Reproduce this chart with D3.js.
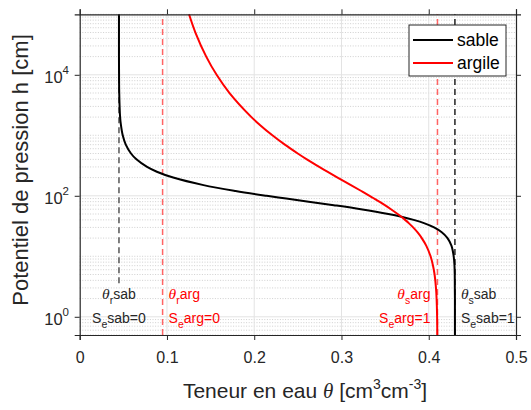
<!DOCTYPE html>
<html>
<head>
<meta charset="utf-8">
<script src="https://cdn.jsdelivr.net/npm/d3@7"></script>
<style>
  body { margin: 0; background: #fff; }
  svg text { font-family: "Liberation Sans", Arial, sans-serif; fill: #262626; }
</style>
</head>
<body>
<div id="chart"></div>
<script>
// pression h [cm] et teneurs en eau
var hValues = [0.5, 1, 2, 3, 5, 7, 10, 15, 20, 25, 30, 35, 40, 45, 50, 60, 70, 80, 90, 100,
  120, 150, 200, 250, 300, 400, 500, 700, 1000, 1500, 2000, 5000, 10000, 20000, 50000, 100000]

var thetaSable = [0.4300, 0.4300, 0.4300, 0.4299, 0.4298, 0.4295, 0.4286, 0.4260, 0.4215, 0.4149,
  0.4061, 0.3953, 0.3827, 0.3687, 0.3537, 0.3222, 0.2912, 0.2624, 0.2367, 0.2143,
  0.1786, 0.1419, 0.1071, 0.0884, 0.0772, 0.0650, 0.0588, 0.0528, 0.0493, 0.0472,
  0.0463, 0.0453, 0.0451, 0.0450, 0.0450, 0.0450]

var thetaArgile = [0.4098, 0.4096, 0.4090, 0.4083, 0.4067, 0.4049, 0.4021, 0.3971, 0.3920, 0.3870,
  0.3821, 0.3774, 0.3729, 0.3686, 0.3644, 0.3567, 0.3497, 0.3433, 0.3375, 0.3322,
  0.3227, 0.3108, 0.2955, 0.2838, 0.2745, 0.2603, 0.2499, 0.2351, 0.2208, 0.2062,
  0.1968, 0.1717, 0.1569, 0.1450, 0.1326, 0.1253]

// teneurs residuelles / a saturation
var refNames = ['thr_sab', 'thr_arg', 'ths_arg', 'ths_sab']
var refTheta = [0.045, 0.095, 0.41, 0.43]
var refHmin = [3.6, 0.5, 0.5, 0.5]

var xTicks = [0, 0.1, 0.2, 0.3, 0.4, 0.5]
var yTickExp = [0, 2, 4]
var seriesNames = ['sable', 'argile']

var width = 531, height = 410
var pLeft = 79.7, pRight = 516, pTop = 14.3, pBottom = 335

var x = d3.scaleLinear().domain([0, 0.5]).range([pLeft, pRight])
var y = d3.scaleLog().domain([0.5, 1e5]).range([pBottom, pTop])

var svg = d3.select('#chart').append('svg').attr('width', width).attr('height', height)

// grille mineure (pointilles)
var minor = []
for (var k = -1; k <= 4; k++) {
  for (var m = 1; m <= 9; m++) {
    var v = m * Math.pow(10, k)
    if (v < 0.5 || v > 1e5) continue
    if (m == 1 && k % 2 == 0) continue
    minor.push(v)
  }
}
minor.push(1e5)
svg.append('g').selectAll('line').data(minor).join('line')
  .attr('x1', pLeft).attr('x2', pRight)
  .attr('y1', d => y(d)).attr('y2', d => y(d))
  .attr('stroke', '#c4c4c4').attr('stroke-width', 0.8).attr('stroke-dasharray', '1,1.6')

// grille majeure
svg.append('g').selectAll('line').data(yTickExp).join('line')
  .attr('x1', pLeft).attr('x2', pRight)
  .attr('y1', d => y(Math.pow(10, d))).attr('y2', d => y(Math.pow(10, d)))
  .attr('stroke', '#e3e3e3').attr('stroke-width', 1)
svg.append('g').selectAll('line').data(xTicks.slice(1, -1)).join('line')
  .attr('y1', pTop).attr('y2', pBottom)
  .attr('x1', d => x(d)).attr('x2', d => x(d))
  .attr('stroke', '#e3e3e3').attr('stroke-width', 1)

// lignes verticales de reference
var refColor = ['#555', '#ff6464', '#ff6464', '#222']
svg.append('g').selectAll('line').data(refTheta).join('line')
  .attr('x1', d => x(d)).attr('x2', d => x(d))
  .attr('y1', (d, i) => y(refHmin[i])).attr('y2', y(1e5))
  .attr('stroke', (d, i) => refColor[i])
  .attr('stroke-width', 1.5)
  .attr('stroke-dasharray', '6,4')

// courbes de retention
var line = d3.line()
  .x(d => x(d[1]))
  .y(d => y(d[0]))
  .curve(d3.curveCatmullRom)

var curveColor = ['#000', '#ff0000']
var series = [thetaSable, thetaArgile]
svg.append('g').selectAll('path').data(series).join('path')
  .attr('d', s => line(hValues.map((h, i) => [h, s[i]])))
  .attr('fill', 'none')
  .attr('stroke', (d, i) => curveColor[i])
  .attr('stroke-width', 2)

// axes
var axColor = '#262626'
var xAxis = svg.append('g').attr('transform', 'translate(0,' + pBottom + ')')
  .call(d3.axisBottom(x).tickValues(xTicks).tickFormat(d3.format('~g')).tickSize(5).tickPadding(12))
svg.append('g').attr('transform', 'translate(0,' + pTop + ')')
  .call(d3.axisTop(x).tickValues(xTicks).tickFormat('').tickSize(5))
svg.append('g').attr('transform', 'translate(' + pLeft + ',0)')
  .call(d3.axisLeft(y).tickValues(yTickExp.map(e => Math.pow(10, e))).tickFormat('').tickSize(5))
svg.append('g').attr('transform', 'translate(' + pRight + ',0)')
  .call(d3.axisRight(y).tickValues(yTickExp.map(e => Math.pow(10, e))).tickFormat('').tickSize(5))

svg.selectAll('.domain').attr('stroke', axColor).attr('stroke-width', 1.2)
svg.selectAll('.tick line').attr('stroke', axColor)
xAxis.selectAll('text').attr('font-size', 16).style('fill', axColor)

// etiquettes 10^n
var yLab = svg.append('g').selectAll('text').data(yTickExp).join('text')
  .attr('x', 69).attr('y', d => y(Math.pow(10, d)) + 8)
  .attr('text-anchor', 'end').attr('font-size', 16.5)
yLab.append('tspan').text('10')
yLab.append('tspan').attr('font-size', 11.5).attr('dy', -9).text(d => d)

// titres des axes
var xl = svg.append('text').attr('x', 305).attr('y', 398)
  .attr('text-anchor', 'middle').attr('font-size', 21)
xl.append('tspan').text('Teneur en eau ')
xl.append('tspan').attr('font-family', 'Liberation Serif').attr('font-style', 'italic').text('θ')
xl.append('tspan').text(' [cm')
xl.append('tspan').attr('font-size', 14).attr('dy', -9).text('3')
xl.append('tspan').attr('dy', 9).text('cm')
xl.append('tspan').attr('font-size', 14).attr('dy', -9).text('-3')
xl.append('tspan').attr('dy', 9).text(']')

svg.append('text')
  .attr('transform', 'translate(28,170) rotate(-90)')
  .attr('text-anchor', 'middle').attr('font-size', 22)
  .text('Potentiel de pression h [cm]')

// annotations theta r / theta s
function annot(xpos, anchor, color, sub, name, se) {
  var t1 = svg.append('text').attr('x', xpos).attr('y', 299)
    .attr('text-anchor', anchor).attr('font-size', 14).style('fill', color)
  t1.append('tspan').attr('font-family', 'Liberation Serif').attr('font-style', 'italic').attr('font-size', 15.5).text('θ')
  t1.append('tspan').attr('font-size', 10.5).attr('dy', 5).text(sub)
  t1.append('tspan').attr('dy', -5).text(name)
  var t2 = svg.append('text').attr('x', xpos).attr('y', 323)
    .attr('text-anchor', anchor).attr('font-size', 14).style('fill', color)
  t2.append('tspan').text('S')
  t2.append('tspan').attr('font-size', 10.5).attr('dy', 5).text('e')
  t2.append('tspan').attr('dy', -5).text(name + '=' + se)
}
annot(x(refTheta[0]), 'middle', '#262626', 'r', 'sab', 0)
annot(x(refTheta[1]) + 6, 'start', '#ff0000', 'r', 'arg', 0)
annot(x(refTheta[2]) - 7, 'end', '#ff0000', 's', 'arg', 1)
annot(x(refTheta[3]) + 6, 'start', '#262626', 's', 'sab', 1)

// legende
var lg = svg.append('g')
lg.append('rect').attr('x', 409).attr('y', 25).attr('width', 97).attr('height', 51)
  .attr('fill', '#fff').attr('stroke', axColor).attr('stroke-width', 1)
seriesNames.forEach(function(n, i) {
  var yy = 40 + i * 23
  lg.append('line').attr('x1', 413).attr('x2', 453).attr('y1', yy).attr('y2', yy)
    .attr('stroke', curveColor[i]).attr('stroke-width', 2)
  lg.append('text').attr('x', 457).attr('y', yy + 6).attr('font-size', 17.5).style('fill', '#000').text(n)
})
</script>
</body>
</html>
